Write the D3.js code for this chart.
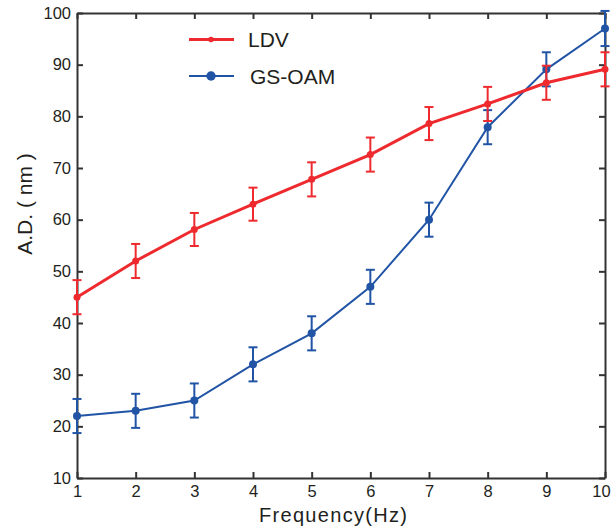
<!DOCTYPE html>
<html>
<head>
<meta charset="utf-8">
<script src="https://cdn.jsdelivr.net/npm/d3@7"></script>
<style>
  body { margin: 0; background: #fff; }
  text { font-family: "Liberation Sans", Arial, sans-serif; fill: #231f20; }
</style>
</head>
<body>
<div id="vis"></div>
<script>
var freq = [1, 2, 3, 4, 5, 6, 7, 8, 9, 10];
var ldv = [45, 52, 58.1, 63, 67.8, 72.6, 78.6, 82.4, 86.5, 89.1];
var ldvErr = [3.3, 3.3, 3.2, 3.2, 3.3, 3.3, 3.2, 3.3, 3.3, 3.3];
var oam = [22, 23, 25, 32, 38, 47, 60, 77.9, 89.1, 97];
var oamErr = [3.3, 3.3, 3.3, 3.3, 3.3, 3.3, 3.3, 3.3, 3.3, 3.4];
var yTicks = [10, 20, 30, 40, 50, 60, 70, 80, 90, 100];

const width = 611, height = 532;
const margin = { left: 77, right: 6, top: 13, bottom: 54 };

var svg = d3.select("#vis")
  .append("svg")
  .attr("width", width)
  .attr("height", height);

var x = d3.scaleLinear().domain([1, 10]).range([margin.left, width - margin.right]);
var y = d3.scaleLinear().domain([10, 100]).range([height - margin.bottom, margin.top]);

const axisColor = "#333";

function styleAxis(g) {
  g.attr("font-size", 16.5).attr("font-family", null);
  g.select(".domain").attr("stroke", axisColor).attr("stroke-width", 2);
  g.selectAll(".tick line").attr("stroke", axisColor).attr("stroke-width", 2);
  g.selectAll(".tick text")
    .style("font-size", "16.5px")
    .attr("fill", "#231f20");
}

// axes with inward ticks on all four sides
var xAxisG = svg.append("g")
  .attr("transform", "translate(0," + y(10) + ")")
  .call(d3.axisBottom(x).tickValues(freq).tickSizeInner(-6).tickSizeOuter(0).tickPadding(7))
  .call(styleAxis);
// last label sits a bit left so it stays on the page
xAxisG.selectAll(".tick text").filter(function(d) { return d == 10; }).attr("dx", -4);

svg.append("g")
  .attr("transform", "translate(0," + y(100) + ")")
  .call(d3.axisTop(x).tickValues(freq).tickSizeInner(-6).tickSizeOuter(0).tickFormat(""))
  .call(styleAxis);
svg.append("g")
  .attr("transform", "translate(" + x(1) + ",0)")
  .call(d3.axisLeft(y).tickValues(yTicks).tickSizeInner(-6).tickSizeOuter(0).tickPadding(6))
  .call(styleAxis);
svg.append("g")
  .attr("transform", "translate(" + x(10) + ",0)")
  .call(d3.axisRight(y).tickValues(yTicks).tickSizeInner(-6).tickSizeOuter(0).tickFormat(""))
  .call(styleAxis);

function drawSeries(vals, errs, color, lw, r) {
  var data = freq.map(function(f, i) { return { f: f, v: vals[i], e: errs[i] }; });
  var g = svg.append("g");
  var line = d3.line().x(function(d) { return x(d.f); }).y(function(d) { return y(d.v); });
  g.append("path")
    .datum(data)
    .attr("d", line)
    .attr("fill", "none")
    .attr("stroke", color)
    .attr("stroke-width", lw);

  var cap = 4.5;
  var eb = g.selectAll(".eb").data(data).enter().append("g");
  eb.append("line")
    .attr("x1", function(d) { return x(d.f); })
    .attr("x2", function(d) { return x(d.f); })
    .attr("y1", function(d) { return y(d.v - d.e); })
    .attr("y2", function(d) { return y(d.v + d.e); });
  eb.append("line")
    .attr("x1", function(d) { return x(d.f) - cap; })
    .attr("x2", function(d) { return x(d.f) + cap; })
    .attr("y1", function(d) { return y(d.v - d.e); })
    .attr("y2", function(d) { return y(d.v - d.e); });
  eb.append("line")
    .attr("x1", function(d) { return x(d.f) - cap; })
    .attr("x2", function(d) { return x(d.f) + cap; })
    .attr("y1", function(d) { return y(d.v + d.e); })
    .attr("y2", function(d) { return y(d.v + d.e); });
  eb.selectAll("line").attr("stroke", color).attr("stroke-width", 2);

  g.selectAll("circle").data(data).enter().append("circle")
    .attr("cx", function(d) { return x(d.f); })
    .attr("cy", function(d) { return y(d.v); })
    .attr("r", r)
    .attr("fill", color);
}

drawSeries(oam, oamErr, "#2154a5", 2, 4);
drawSeries(ldv, ldvErr, "#ee2a2e", 3, 3.5);

// legend
var legend = [
  { name: "LDV", color: "#ee2a2e", lw: 3, r: 2.8, yy: 39.5, tx: 248 },
  { name: "GS-OAM", color: "#2154a5", lw: 2, r: 4.7, yy: 76, tx: 250 }
];
var lg = svg.append("g").selectAll("g").data(legend).enter().append("g");
lg.append("line")
  .attr("x1", 189).attr("x2", 234)
  .attr("y1", function(d) { return d.yy; })
  .attr("y2", function(d) { return d.yy; })
  .attr("stroke", function(d) { return d.color; })
  .attr("stroke-width", function(d) { return d.lw; });
lg.append("circle")
  .attr("cx", 211)
  .attr("cy", function(d) { return d.yy; })
  .attr("r", function(d) { return d.r; })
  .attr("fill", function(d) { return d.color; });
lg.append("text")
  .attr("x", function(d) { return d.tx; })
  .attr("y", function(d) { return d.yy + 7.5; })
  .style("font-size", "21px")
  .text(function(d) { return d.name; });

// axis titles
svg.append("text")
  .attr("x", 333)
  .attr("y", 522)
  .attr("text-anchor", "middle")
  .style("font-size", "20px")
  .attr("textLength", 148)
  .text("Frequency(Hz)");

svg.append("text")
  .attr("transform", "translate(32,204) rotate(-90)")
  .attr("text-anchor", "middle")
  .style("font-size", "21px")
  .text("A.D. ( nm )");
</script>
</body>
</html>
